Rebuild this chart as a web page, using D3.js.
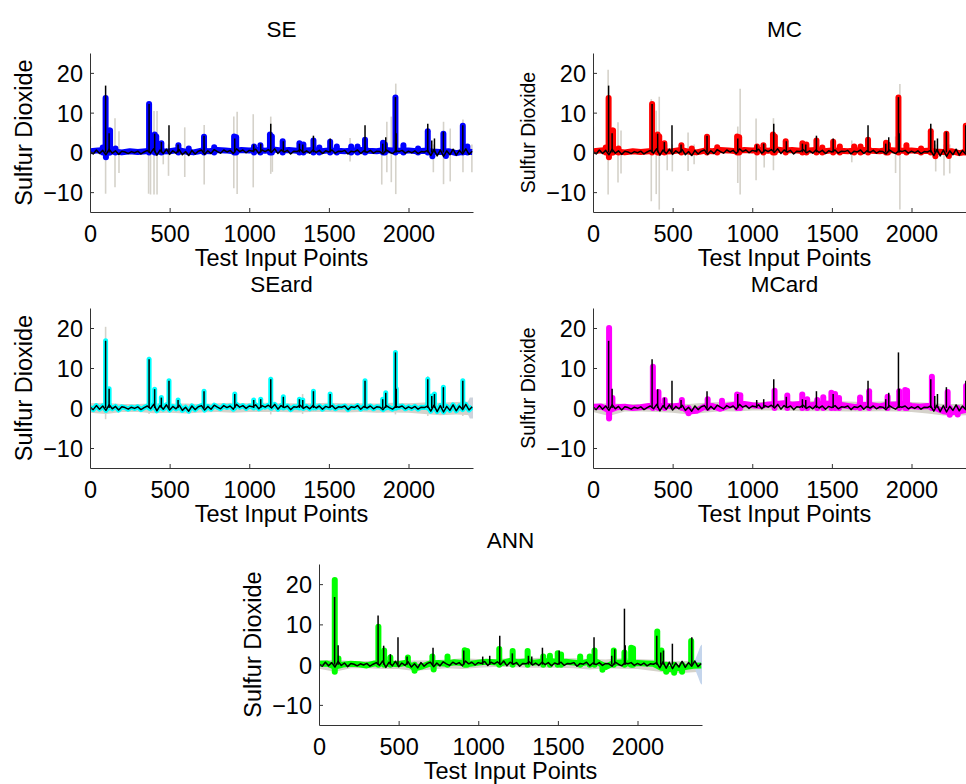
<!DOCTYPE html>
<html><head><meta charset="utf-8">
<script src="https://cdn.jsdelivr.net/npm/d3@7"></script>
<style>
body{margin:0;background:#fff}
svg{display:block}
text{font-family:"Liberation Sans",Arial,Helvetica,sans-serif;fill:#000}
</style>
</head><body>
<script>
// ---------------- DATA ----------------
const panelTitles = ["SE", "MC", "SEard", "MCard", "ANN"];
const xTicks = [0, 500, 1000, 1500, 2000];
const yTicks = [-10, 0, 10, 20];
const xLabel = "Test Input Points";
const yLabel = "Sulfur Dioxide";

// observed test data (black): baseline every 20 points + spikes
const obsStep = 20;
const obsBase = [
 0.2,-0.4,0.6,-0.3,0.5,-0.6,0.8,-0.2,0.4,-0.5,
 0.3,0.1,-0.3,0.2,-0.1,0.3,-0.4,0.1,0.5,-0.2,
 0.9,-0.7,0.6,-0.3,0.8,-0.5,0.4,-0.2,0.7,-0.6,
 0.2,-0.8,0.5,-0.4,0.3,0.6,-0.5,0.4,-0.3,0.7,
 0.2,-0.2,0.6,0.1,0.5,-0.3,0.9,0.2,0.6,-0.1,
 0.5,0.3,0.8,-0.2,0.6,0.2,0.7,0.0,0.9,-0.3,
 0.6,0.1,0.5,-0.4,0.3,0.2,0.7,-0.1,0.4,-0.2,
 0.6,0.0,0.5,-0.3,0.4,0.1,0.6,-0.2,0.3,0.2,
 0.5,-0.4,0.3,0.1,0.6,-0.3,0.4,0.0,0.5,-0.2,
 0.3,0.2,-0.4,0.6,0.1,-0.3,0.4,0.2,0.5,-0.2,
 0.3,-0.1,0.4,-0.3,0.2,0.1,0.5,-0.8,0.7,-0.9,
 0.6,-1.0,0.4,-0.6,0.8,-0.7,0.5,-0.4,0.9,-0.5,
 0.3];
const obsSpikeX = [98,120,371,406,448,496,553,716,909,1028,1072,1135,1214,1315,1336,1403,1508,1727,1838,1857,1918,1923,2121,2146,2163,2219,2341];
const obsSpikeY = [16.8,4.8,12.2,4.7,2.6,6.8,2,4.2,3.5,2,2.2,7.2,2.8,2.2,2,4.2,3.5,6.8,2.2,3.8,13.9,4.8,7.2,3,3.5,5.2,6.8];

// SE prediction (blue); the MC prediction (red) reads the same in the picture
const predStep = 50;
const seBase = [0.3,0.5,0.6,0.2,0.0,0.3,0.1,0.3,0.5,0.2,
 0.3,0.6,0.2,0.0,0.4,0.3,0.6,0.5,0.3,0.6,
 0.5,0.6,0.4,0.7,0.5,0.6,0.4,0.5,0.6,0.3,
 0.5,0.4,0.3,0.5,0.6,0.4,0.3,0.6,0.5,0.4,
 0.5,0.3,0.4,0.2,0.1,0.3,-0.2,0.2,0.1];
const sePeakX = [80,98,120,126,160,371,406,416,448,555,620,716,780,905,918,1030,1070,1130,1142,1210,1315,1340,1403,1440,1508,1550,1640,1680,1727,1840,1852,1918,1968,2060,2121,2219,2341,2370,100,2150,2235];
const sePeakY = [1.2,13.7,5.5,5.5,1,12.2,4.5,4,2.3,1.8,1,3.9,1.3,4,3.8,1.5,1.8,4.5,4,2.8,2.3,2,3,1.2,2.7,1.5,1.5,1.5,3.2,2.4,2,13.8,1.8,1,5.3,4.7,6.7,1.5,-1.2,-1,-0.9];

// MCard prediction (magenta)
const mcardBase = [0.3,0.4,-0.6,0.2,0.3,0.0,0.2,0.5,0.3,0.6,
 0.4,0.6,-0.9,-0.7,0.3,0.5,-0.2,0.6,0.9,1.0,
 0.7,0.5,0.9,1.0,1.2,0.8,1.0,0.6,0.9,1.1,
 1.0,0.8,0.5,0.2,0.8,0.7,0.4,0.8,0.9,1.0,
 0.5,0.3,0.5,0.0,-0.8,-1.1,-0.8,-0.4,-0.5];
const mcardPeakX = [101,101,122,376,411,450,558,600,720,810,905,925,1140,1220,1314,1345,1408,1446,1497,1520,1545,1677,1734,1850,1923,1960,1972,2128,2227,2240,2290,2343];
const mcardPeakY = [20,-2.6,2.5,10.3,4,2,2,-1.3,2.2,1.8,3.4,3.2,4.3,3.1,3.4,2.2,2,2.7,3.8,3.5,2.5,2.6,4.2,2.8,4.2,4.5,4.3,7.8,4,-1.7,-1.6,5.5];

// ANN prediction (green)
const annBase = [0.2,0.3,-0.5,0.0,0.2,0.1,-0.2,0.3,0.4,0.2,
 0.1,0.5,-0.9,-0.4,0.3,0.4,0.2,0.6,0.4,0.2,
 0.5,0.7,0.6,0.4,0.9,0.6,0.8,0.5,0.7,0.9,
 0.6,0.7,0.5,0.3,0.8,0.6,-0.6,0.4,0.5,0.3,
 0.4,0.3,0.2,-0.8,-1.1,-0.9,-0.6,-0.3,-0.2];
const annPeakX = [99,99,122,373,409,448,558,600,712,720,807,915,930,1132,1216,1310,1408,1450,1499,1520,1640,1700,1730,1780,1851,1918,1960,1972,2124,2150,2180,2230,2280,2337];
const annPeakY = [21,-1.8,1.5,9.4,3.5,1.8,1.8,-1.5,2,-1.2,2,3.6,3.4,3.9,3.4,3.4,2,2.2,2.8,2.5,2,2,3.5,-1.3,3.5,3,4.2,4,8.2,3.5,-1.8,-2,-1.8,5.9];

// uncertainty (grey) vertical excursions
const seGrayX  = [2,98,157,182,368,380,402,421,460,493,595,717,903,924,1025,1135,1145,1633,1832,1864,1892,1920,2156,2220,2262,2342,2398];
const seGrayHi = [6.5,8,8.6,5.3,6,8,10.4,10.4,2,2,6.3,6.9,9,10.2,9.6,9,5,3.6,3,7.7,9,17.3,2,7.7,6,8.3,2];
const seGrayLo = [-6.2,-10.4,-8.8,-5.2,-10.4,-10.6,-10.6,-10.6,-3,-5.9,-6.2,-8.1,-9,-10.5,-8.8,-5.4,-4.9,-2.3,-8.1,-5,-7.5,-10.5,-5,-8,-7.3,-5,-5];
const mcGrayX  = [2,95,157,176,366,397,416,466,498,597,635,909,924,1024,1075,1133,1625,1900,1927,2152,2204,2240];
const mcGrayHi = [6.5,20.8,7.6,5.5,13.4,10.5,14,2,2,5,2,6.5,16,8.5,2,8.6,3,4,17.2,2,2,2];
const mcGrayLo = [-6.9,-10.6,-7.6,-5.3,-12.3,-10.5,-14.4,-4.5,-4.8,-4.7,-3,-7.7,-10.6,-7,-3.8,-4.5,-2.5,-5.2,-14.4,-4.8,-5.8,-5.3];
const seardGrayX  = [98,371,1135,1335,1918,2121,2341];
const seardGrayHi = [20.3,12.8,7.8,3.5,14.4,8,7.3];
const seardGrayLo = [-2.8,-1.5,-1.6,-1.5,-1.6,-2,-2];

// uncertainty band, every 100 points
const bandStep = 100;
const seardBandHi = [1.2,1.3,1.0,1.0,1.2,1.1,1.1,1.0,1.2,1.3,1.2,1.3,1.2,1.2,1.2,1.3,1.2,1.2,1.1,1.3,1.2,1.4,1.3,1.5,1.6];
const seardBandLo = [-1.2,-1.5,-1.0,-1.0,-1.3,-1.2,-1.4,-1.1,-1.0,-1.2,-1.0,-1.0,-1.0,-1.1,-1.0,-1.0,-1.1,-1.0,-1.2,-1.1,-1.2,-1.5,-1.8,-1.6,-1.8];
const mcardBandHi = [1.0,1.2,1.0,1.0,1.2,1.2,1.0,1.3,1.5,1.7,1.5,1.5,1.7,1.7,1.8,1.8,1.6,1.5,1.6,1.7,1.5,1.3,1.0,1.0,1.2];
const mcardBandLo = [-1.0,-2.0,-0.9,-0.9,-1.0,-1.2,-1.6,-1.2,-0.8,-0.9,-0.6,-0.6,-0.6,-0.8,-0.8,-0.8,-0.9,-0.9,-0.8,-0.9,-1.0,-1.4,-1.9,-1.9,-1.7];
const annBandHi = [1.0,1.2,0.9,0.9,1.1,1.1,1.0,1.1,1.3,1.6,1.4,1.4,1.6,1.6,1.7,1.6,1.6,1.4,1.3,1.6,1.4,1.2,0.8,0.9,1.0];
const annBandLo = [-1.0,-1.8,-0.9,-0.9,-1.1,-1.1,-1.6,-1.2,-0.9,-1.1,-0.8,-0.6,-0.6,-0.8,-0.8,-0.8,-0.9,-1.2,-0.9,-1.0,-1.1,-1.6,-2.1,-2.0,-1.8];

// widening band at the end of the test range
const seardTailX  = [2372,2385,2405];
const seardTailHi = [1.5,2.6,2.6];
const seardTailLo = [-1.5,-2.6,-2.6];
const annTailX  = [2360,2380,2395,2405];
const annTailHi = [1,3,4.6,5];
const annTailLo = [-1,-3,-4.6,-5];

// ---------------- DRAWING ----------------
const W = 966, H = 784;
const X_MAX = 2405;
const PW = 383;
const GRAY = "#d5d2ca";
const FONT = 23.5;
const TITLE_FONT = 22.5;

const svg = d3.select("body").append("svg").attr("width", W).attr("height", H);

const obsSeries = {base: obsBase, step: obsStep, px: obsSpikeX, py: obsSpikeY};
const seSeries = {base: seBase, step: predStep, px: sePeakX, py: sePeakY};

const panels = [
  {id: 0, left: 90,  top: 53,  h: 159, color: "#0000ff", pred: seSeries, yls: FONT, pw: 6,
   gray: {x: seGrayX, hi: seGrayHi, lo: seGrayLo}},
  {id: 1, left: 593, top: 53,  h: 159, color: "#ff0000", pred: seSeries, yls: 19.5, pw: 6,
   gray: {x: mcGrayX, hi: mcGrayHi, lo: mcGrayLo}},
  {id: 2, left: 90,  top: 308, h: 160, color: "#00ffff", pred: obsSeries, yls: FONT, pw: 5,
   gray: {x: seardGrayX, hi: seardGrayHi, lo: seardGrayLo},
   band: {hi: seardBandHi, lo: seardBandLo},
   tail: {x: seardTailX, hi: seardTailHi, lo: seardTailLo, color: "#cdd3dc"}},
  {id: 3, left: 593, top: 308, h: 160, color: "#ff00ff", pw: 6,
   pred: {base: mcardBase, step: predStep, px: mcardPeakX, py: mcardPeakY}, yls: 19.5,
   band: {hi: mcardBandHi, lo: mcardBandLo}},
  {id: 4, left: 319, top: 564, h: 161, color: "#00ff00", pw: 6,
   pred: {base: annBase, step: predStep, px: annPeakX, py: annPeakY}, yls: FONT,
   band: {hi: annBandHi, lo: annBandLo},
   tail: {x: annTailX, hi: annTailHi, lo: annTailLo, color: "#c4d5ec"}}
];

function drawSeries(sel, x, y, s, color, w) {
  const pts = s.base.map((v, i) => [i * s.step, v]);
  sel.append("path").datum(pts)
    .attr("d", d3.line().x(d => x(d[0])).y(d => y(d[1])))
    .attr("fill", "none").attr("stroke", color).attr("stroke-width", w)
    .attr("stroke-linejoin", "round");
  sel.append("g").selectAll("line").data(s.px.map((v, i) => [v, s.py[i]])).join("line")
    .attr("x1", d => x(d[0])).attr("x2", d => x(d[0]))
    .attr("y1", y(0)).attr("y2", d => y(d[1]))
    .attr("stroke", color).attr("stroke-width", w)
    .attr("stroke-linecap", w > 3 ? "round" : "butt");
}

panels.forEach(p => {
  const g = svg.append("g").attr("transform", `translate(${p.left},${p.top})`);
  const x = d3.scaleLinear().domain([0, X_MAX]).range([0, PW]);
  const y = d3.scaleLinear().domain([-15, 25]).range([p.h, 0]);
  const cid = "clip" + p.id;
  g.append("clipPath").attr("id", cid).append("rect").attr("width", PW).attr("height", p.h);
  const plot = g.append("g").attr("clip-path", `url(#${cid})`);

  if (p.band) {
    plot.append("path").datum(d3.range(p.band.hi.length))
      .attr("d", d3.area().x(i => x(i * bandStep)).y0(i => y(p.band.lo[i])).y1(i => y(p.band.hi[i])))
      .attr("fill", GRAY);
  }
  if (p.tail) {
    plot.append("path").datum(d3.range(p.tail.x.length))
      .attr("d", d3.area().x(i => x(p.tail.x[i])).y0(i => y(p.tail.lo[i])).y1(i => y(p.tail.hi[i])))
      .attr("fill", p.tail.color);
  }
  if (p.gray) {
    plot.append("g").selectAll("line").data(d3.range(p.gray.x.length)).join("line")
      .attr("x1", i => x(p.gray.x[i])).attr("x2", i => x(p.gray.x[i]))
      .attr("y1", i => y(p.gray.lo[i])).attr("y2", i => y(p.gray.hi[i]))
      .attr("stroke", GRAY).attr("stroke-width", 1.6);
  }
  drawSeries(plot, x, y, p.pred, p.color, p.pw);
  drawSeries(plot, x, y, obsSeries, "#000", 1.5);

  // axes
  const ax = g.append("g").attr("transform", `translate(0,${p.h})`)
    .call(d3.axisBottom(x).tickValues(xTicks).tickSizeInner(-4).tickSizeOuter(0).tickFormat(d3.format("d")));
  ax.selectAll("text").attr("y", 30).attr("dy", 0).style("font-size", FONT + "px");
  const ay = g.append("g")
    .call(d3.axisLeft(y).tickValues(yTicks).tickSizeInner(-4).tickSizeOuter(0));
  ay.selectAll("text").attr("x", -7).attr("dy", "0.36em").style("font-size", FONT + "px");
  g.selectAll(".domain, .tick line").attr("stroke", "#333");

  // texts
  g.append("text").attr("x", PW / 2).attr("y", -16).attr("text-anchor", "middle")
    .style("font-size", TITLE_FONT + "px").text(panelTitles[p.id]);
  g.append("text").attr("x", PW / 2).attr("y", p.h + 54).attr("text-anchor", "middle")
    .style("font-size", FONT + "px").text(xLabel);
  g.append("text").attr("transform", `translate(-58,${p.h / 2}) rotate(-90)`)
    .attr("text-anchor", "middle").style("font-size", p.yls + "px").text(yLabel);
});
</script>
</body></html>
